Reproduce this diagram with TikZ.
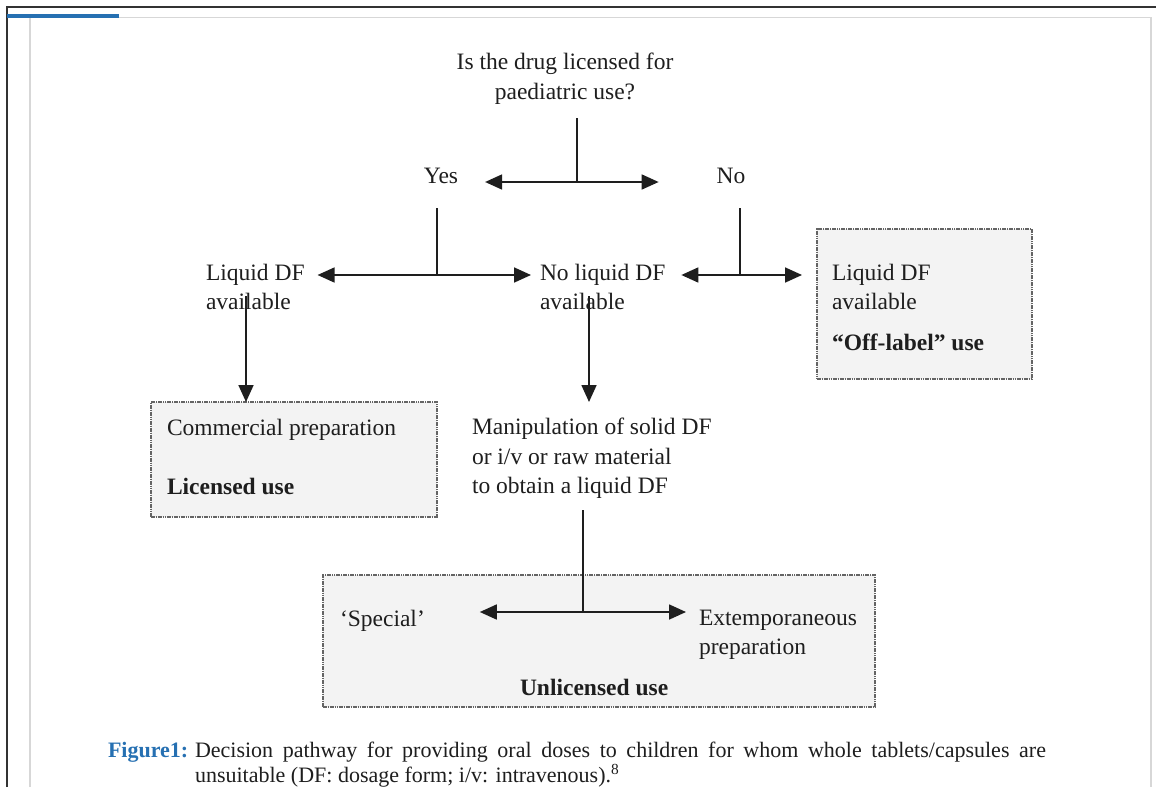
\documentclass[tikz,border=0pt]{standalone}
\usepackage{fontspec}
\setmainfont{Liberation Serif}
\usetikzlibrary{arrows.meta}
\definecolor{boxfill}{RGB}{243,243,243}
\definecolor{boxline}{RGB}{100,100,100}
\definecolor{capblue}{RGB}{38,112,178}
\definecolor{framegray}{RGB}{215,215,215}
\definecolor{inkgray}{RGB}{30,30,30}
\begin{document}
\begin{tikzpicture}[x=1pt,y=-1pt,
  txt/.style={inner sep=0pt, outer sep=0pt, text=inkgray, font=\fontsize{23.5}{29.5}\selectfont},
  btxt/.style={txt, font=\fontsize{23.5}{29.5}\selectfont\bfseries},
  captxt/.style={inner sep=0pt, outer sep=0pt, text=inkgray, font=\fontsize{22}{26}\selectfont},
  usebox/.style={draw=boxline, fill=boxfill, line width=1.3pt, dash pattern=on 1.6pt off 0.7pt,
    inner sep=0pt, outer sep=0pt, anchor=north west},
  conn/.style={draw=inkgray, line width=1.7pt},
  arr/.style={conn, -{Triangle[length=17pt,width=15pt]}},
]
\useasboundingbox (0,0) rectangle (1156,787);
\fill[white] (0,0) rectangle (1156,787);

% page frame
\draw[black!80, line width=1.6pt] (7,787) -- (7,7) -- (1156,7);
\draw[framegray, line width=1.2pt] (30,787) -- (30,17.5) -- (1151,17.5) -- (1151,787);
\draw[capblue, line width=3.2pt] (7,16) -- (119,16);

% boxes
\node[usebox, minimum width=215pt, minimum height=150pt] (rbox) at (817,229) {};
\node[usebox, minimum width=286pt, minimum height=115pt] (cbox) at (151,402) {};
\node[usebox, minimum width=552pt, minimum height=132pt] (ubox) at (323,575) {};

% texts
\node[txt, anchor=north, align=center] (q) at (565,53) {Is the drug licensed for\\paediatric use?};
\node[txt, anchor=base] (yes) at (441,183) {Yes};
\node[txt, anchor=base] (no) at (731,183) {No};
\node[txt, anchor=north west, align=left] (ldf) at (206,264) {Liquid DF\\available};
\node[txt, anchor=north west, align=left] (nldf) at (540,264) {No liquid DF\\available};
\node[txt, anchor=north west, align=left] (rtxt) at (832,264) {Liquid DF\\available};
\node[btxt, anchor=base west] (off) at (832,350) {“Off-label” use};
\node[txt, anchor=base west] (comm) at (167,435) {Commercial preparation};
\node[btxt, anchor=base west] (lic) at (167,494) {Licensed use};
\node[txt, anchor=north west, align=left] (mnp) at (472,418) {Manipulation of solid DF\\or i/v or raw material\\to obtain a liquid DF};
\node[txt, anchor=base west] (spec) at (340,626) {‘Special’};
\node[txt, anchor=north west, align=left] (ext) at (699,610) {Extemporaneous\\preparation};
\node[btxt, anchor=base west] (unl) at (520,695) {Unlicensed use};

% junction coordinates
\coordinate (j1t) at (577,118);
\coordinate (j1) at (577,182);
\coordinate (j2t) at (437,208);
\coordinate (j2) at (437,275);
\coordinate (j3t) at (740,208);
\coordinate (j3) at (740,275);
\coordinate (a1) at (246,296);
\coordinate (a2) at (589,296);
\coordinate (j4t) at (583,510);
\coordinate (j4) at (583,612);

% connectors
\draw[conn] (j1t) -- (j1);
\draw[arr, shorten >=27pt] (j1) -- (j1 -| yes.east);
\draw[arr, shorten >=58pt] (j1) -- (j1 -| no.west);

\draw[conn] (j2t) -- (j2);
\draw[arr, shorten >=13pt] (j2) -- (j2 -| ldf.east);
\draw[arr, shorten >=9pt] (j2) -- (j2 -| nldf.west);

\draw[conn] (j3t) -- (j3);
\draw[arr, shorten >=16pt] (j3) -- (j3 -| nldf.east);
\draw[arr, shorten >=15pt] (j3) -- (j3 -| rbox.west);

\draw[arr] (a1) -- (a1 |- cbox.north);
\draw[arr] (a2) -- (a2 |- cbox.north);

\draw[conn] (j4t) -- (j4);
\draw[arr, shorten >=55pt] (j4) -- (j4 -| spec.east);
\draw[arr, shorten >=13pt] (j4) -- (j4 -| ext.west);

% caption
\node[captxt, anchor=base west, text=capblue, font=\fontsize{22}{26}\selectfont\bfseries] (fig) at (108,757) {Figure1:};
\node[captxt, anchor=base west] (cap1) at (195,757) {\makebox[851pt][s]{Decision pathway for providing oral doses to children for whom whole tablets/capsules are}};
\node[captxt, anchor=base west] (cap2) at (195,782) {unsuitable (DF: dosage form; i/v: intravenous).\textsuperscript{8}};
\end{tikzpicture}
\end{document}
